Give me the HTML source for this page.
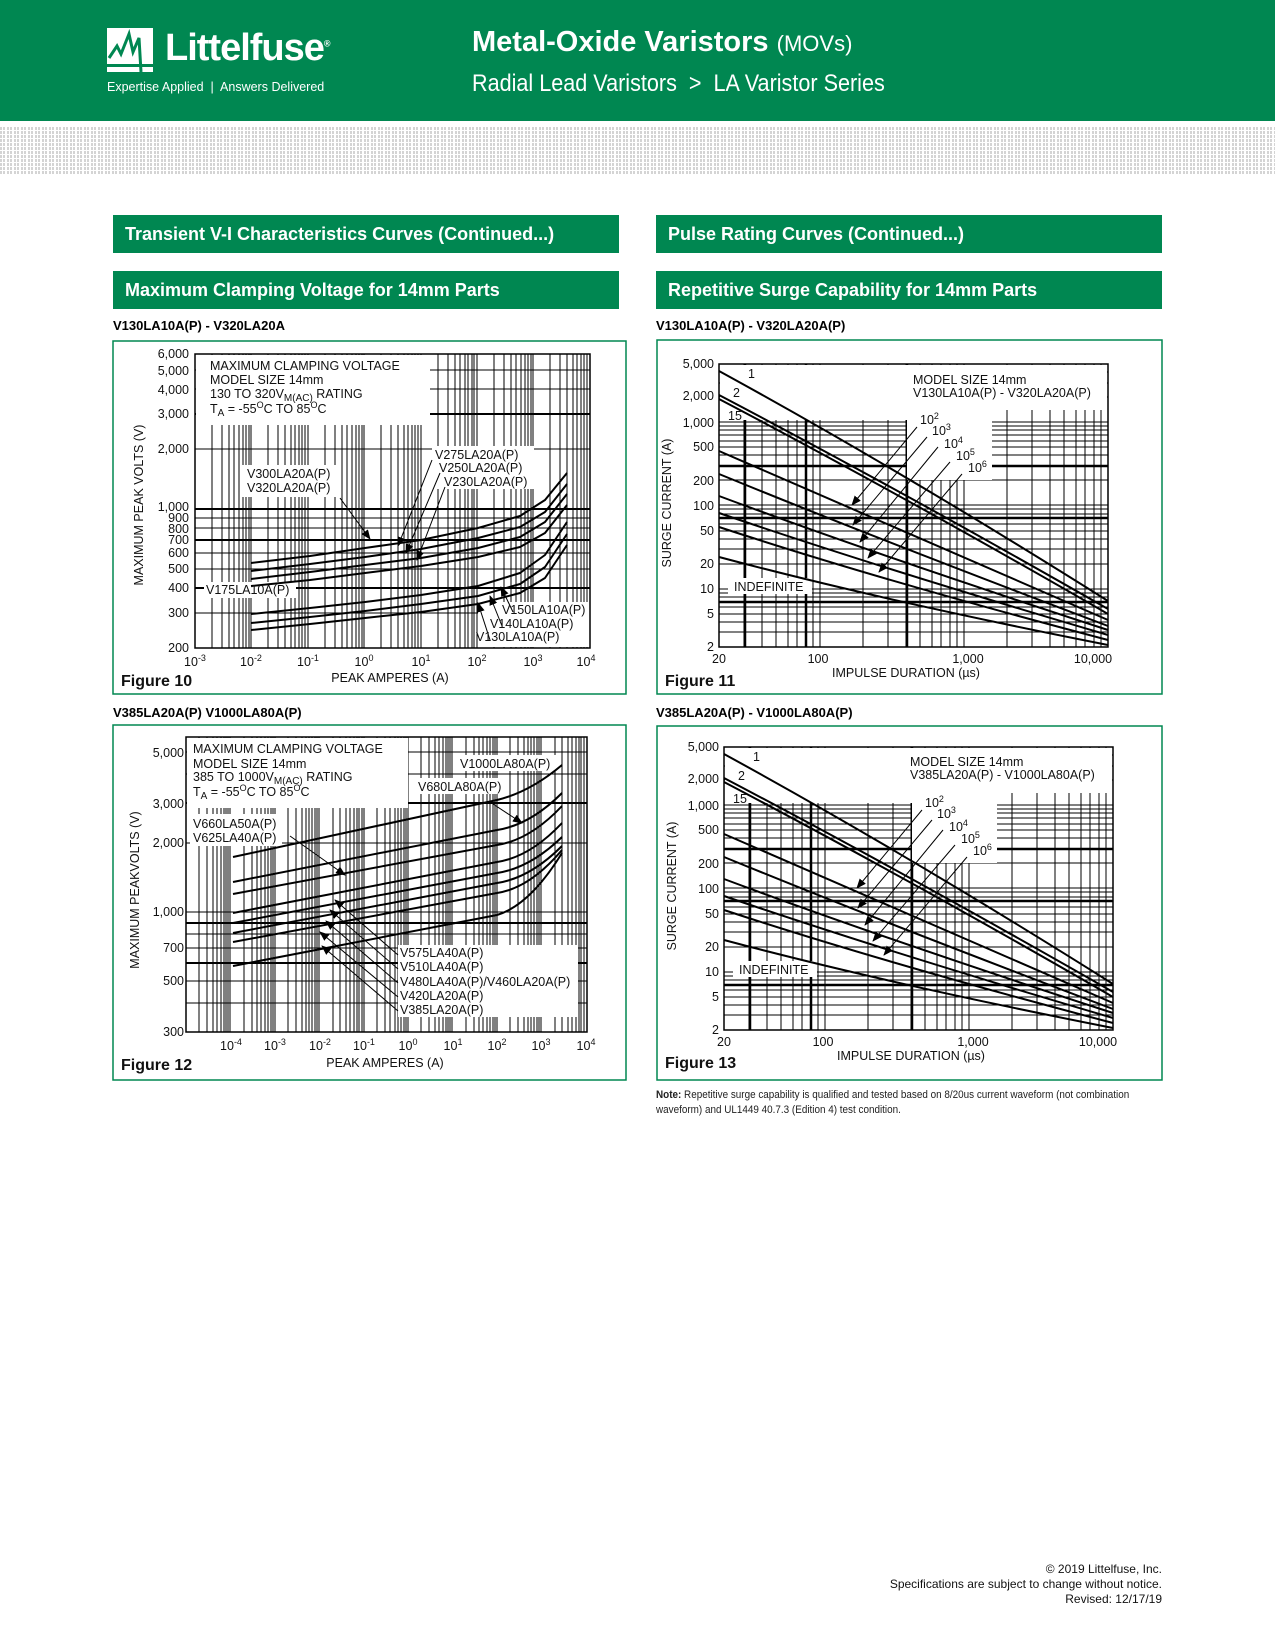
<!DOCTYPE html>
<html><head><meta charset="utf-8"><style>
body{margin:0;width:1275px;height:1650px;position:relative;background:#fff;font-family:"Liberation Sans",sans-serif;overflow:hidden}
.hdr{position:absolute;left:0;top:0;width:1275px;height:121px;background:#008751;color:#fff}
.dots{position:absolute;left:0;top:126px;width:1275px;height:49px;background-image:repeating-linear-gradient(0deg,#fff 0 1px,transparent 1px 4px),repeating-linear-gradient(90deg,#d4d4d4 0 2px,#fff 2px 3px,#d4d4d4 3px 5px,#fff 5px 7px);}
.bar{position:absolute;height:38px;background:#008751;color:#fff;font-weight:bold;font-size:18px;line-height:38px;padding-left:12px;box-sizing:border-box;width:506px}
.sub{position:absolute;font-weight:bold;font-size:13px}
.nar{font-family:"Liberation Sans Narrow","Liberation Sans",sans-serif}
</style></head><body>
<div class="hdr">
 <svg style="position:absolute;left:107px;top:28px" width="46" height="44"><rect x="0" y="0" width="46" height="44" fill="#fff"/><path d="M2 30 L10 18 L14 26 L22 6 L26 24 L32 10 L34 44" stroke="#008751" stroke-width="3" fill="none"/><rect x="0" y="36" width="46" height="3" fill="#008751"/></svg>
 <div class="nar" style="position:absolute;left:165px;top:27px;font-size:38px;font-weight:bold;letter-spacing:-1px">Littelfuse<sup style="font-size:9px">®</sup></div>
 <div class="nar" style="position:absolute;left:107px;top:80px;font-size:12.5px">Expertise Applied &nbsp;|&nbsp; Answers Delivered</div>
 <div class="nar" style="position:absolute;left:472px;top:26px;font-size:29px;font-weight:bold">Metal-Oxide Varistors <span style="font-weight:normal;font-size:22px">(MOVs)</span></div>
 <div class="nar" style="position:absolute;left:472px;top:70px;font-size:24px;transform:scaleX(0.9);transform-origin:0 0;white-space:nowrap">Radial Lead Varistors &nbsp;&gt;&nbsp; LA Varistor Series</div>
</div>
<div class="dots"></div>
<div class="bar nar" style="left:113px;top:215px">Transient V-I Characteristics Curves (Continued...)</div>
<div class="bar nar" style="left:113px;top:271px">Maximum Clamping Voltage for 14mm Parts</div>
<div class="bar nar" style="left:656px;top:215px">Pulse Rating Curves (Continued...)</div>
<div class="bar nar" style="left:656px;top:271px">Repetitive Surge Capability for 14mm Parts</div>
<div class="sub" style="left:113px;top:318px">V130LA10A(P) - V320LA20A</div>
<div class="sub" style="left:656px;top:318px">V130LA10A(P) - V320LA20A(P)</div>
<div class="sub" style="left:113px;top:705px">V385LA20A(P) V1000LA80A(P)</div>
<div class="sub" style="left:656px;top:705px">V385LA20A(P) - V1000LA80A(P)</div>
<div class="nar" style="position:absolute;left:656px;top:1088px;font-size:11px;line-height:15px;color:#222;width:560px;transform:scaleX(0.9);transform-origin:0 0"><b>Note:</b> Repetitive surge capability is qualified and tested based on 8/20us current waveform (not combination<br>waveform) and UL1449 40.7.3 (Edition 4) test condition.</div>
<div class="nar" style="position:absolute;right:113px;top:1562px;font-size:12px;line-height:15px;text-align:right;color:#111">© 2019 Littelfuse, Inc.<br>Specifications are subject to change without notice.<br>Revised: 12/17/19</div>

<svg style="position:absolute;left:0;top:0" width="1275" height="1650" font-family="Liberation Sans, sans-serif">
<defs><marker id="ar" markerWidth="10" markerHeight="8" refX="9" refY="4" orient="auto" markerUnits="userSpaceOnUse"><path d="M0,0 L10,4 L0,8 Z" fill="#000"/></marker></defs>
<g fill="none" stroke="#008751" stroke-width="1.5">
<rect x="113" y="341" width="513" height="353"/><rect x="657" y="340" width="505" height="354"/>
<rect x="113" y="725" width="513" height="355"/><rect x="657" y="726" width="505" height="354"/>
</g>

<!-- FIG 10 -->
<g stroke="#000" stroke-width="1" fill="none">
<path d="M212 354V648M222 354V648M229 354V648M234 354V648M239 354V648M243 354V648M246 354V648M249 354V648M251 354V648M268 354V648M278 354V648M285 354V648M291 354V648M295 354V648M299 354V648M302 354V648M305 354V648M308 354V648M325 354V648M335 354V648M342 354V648M347 354V648M352 354V648M356 354V648M359 354V648M362 354V648M364 354V648M381 354V648M391 354V648M398 354V648M404 354V648M408 354V648M412 354V648M415 354V648M418 354V648M421 354V648M438 354V648M448 354V648M455 354V648M460 354V648M465 354V648M468 354V648M472 354V648M474 354V648M477 354V648M494 354V648M504 354V648M511 354V648M516 354V648M521 354V648M525 354V648M528 354V648M531 354V648M533 354V648M550 354V648M560 354V648M567 354V648M573 354V648M577 354V648M581 354V648M584 354V648M587 354V648"/>
<path d="M195 613H590M195 588H590M195 569H590M195 553H590M195 540H590M195 528H590M195 518H590M195 509H590M195 449H590M195 414H590M195 389H590M195 370H590"/>
<path d="M195 540H590M195 588H590M195 414H590M195 509H590" stroke-width="2"/>
</g>
<g fill="#fff"><rect x="196" y="355" width="234" height="70"/><rect x="240" y="465" width="96" height="32"/><rect x="432" y="446" width="102" height="43"/><rect x="204" y="582" width="92" height="16"/><rect x="478" y="602" width="112" height="45"/></g>
<rect x="195" y="354" width="395" height="294" fill="none" stroke="#000" stroke-width="1.5"/>
<g stroke="#000" stroke-width="2" fill="none" stroke-linejoin="round">
<polyline points="251,563 310,556 365,548 421,540 478,528 520,516 545,500 567,473"/>
<polyline points="251,571 310,564 365,557 421,549 478,538 520,527 545,512 567,484"/>
<polyline points="251,579 310,572 365,565 421,558 478,548 520,537 545,522 567,494"/>
<polyline points="251,586 310,580 365,573 421,566 478,557 520,547 545,533 567,505"/>
<polyline points="251,614 310,608 365,602 421,595 478,586 520,573 545,555 567,522"/>
<polyline points="251,623 310,617 365,611 421,604 478,596 520,584 545,567 567,534"/>
<polyline points="251,630 310,624 365,618 421,612 478,604 520,593 545,578 567,545"/>
</g>
<g stroke="#000" stroke-width="1" marker-end="url(#ar)">
<line x1="340" y1="498" x2="370" y2="539"/><line x1="432" y1="460" x2="398" y2="546"/><line x1="440" y1="473" x2="406" y2="553"/><line x1="445" y1="487" x2="417" y2="560"/>
<line x1="490" y1="640" x2="478" y2="603"/><line x1="502" y1="626" x2="490" y2="596"/><line x1="513" y1="612" x2="501" y2="587"/>
</g>
<g font-size="12.5" fill="#111">
<text x="210" y="370">MAXIMUM CLAMPING VOLTAGE</text><text x="210" y="384">MODEL SIZE 14mm</text>
<text x="210" y="398">130 TO 320V<tspan font-size="10" dy="3">M(AC)</tspan><tspan dy="-3"> RATING</tspan></text>
<text x="210" y="413">T<tspan font-size="10" dy="3">A</tspan><tspan dy="-3"> = -55</tspan><tspan font-size="9" dy="-5">O</tspan><tspan dy="5">C TO 85</tspan><tspan font-size="9" dy="-5">O</tspan><tspan dy="5">C</tspan></text>
<text x="247" y="478">V300LA20A(P)</text><text x="247" y="492">V320LA20A(P)</text>
<text x="435" y="459">V275LA20A(P)</text><text x="439" y="472">V250LA20A(P)</text><text x="444" y="486">V230LA20A(P)</text>
<text x="206" y="594">V175LA10A(P)</text>
<text x="502" y="614">V150LA10A(P)</text><text x="490" y="628">V140LA10A(P)</text><text x="476" y="641">V130LA10A(P)</text>
<g text-anchor="end"><text x="189" y="358">6,000</text><text x="189" y="375">5,000</text><text x="189" y="394">4,000</text><text x="189" y="418">3,000</text><text x="189" y="453">2,000</text><text x="189" y="511">1,000</text><text x="189" y="522">900</text><text x="189" y="533">800</text><text x="189" y="544">700</text><text x="189" y="557">600</text><text x="189" y="573">500</text><text x="189" y="592">400</text><text x="189" y="617">300</text><text x="189" y="652">200</text></g>
<g text-anchor="middle"><text x="195" y="666">10<tspan font-size="9" dy="-5">-3</tspan></text><text x="251" y="666">10<tspan font-size="9" dy="-5">-2</tspan></text><text x="308" y="666">10<tspan font-size="9" dy="-5">-1</tspan></text><text x="364" y="666">10<tspan font-size="9" dy="-5">0</tspan></text><text x="421" y="666">10<tspan font-size="9" dy="-5">1</tspan></text><text x="477" y="666">10<tspan font-size="9" dy="-5">2</tspan></text><text x="533" y="666">10<tspan font-size="9" dy="-5">3</tspan></text><text x="586" y="666">10<tspan font-size="9" dy="-5">4</tspan></text>
<text x="390" y="682">PEAK AMPERES (A)</text>
<text transform="translate(143,505) rotate(-90)">MAXIMUM PEAK VOLTS (V)</text></g>
<text x="121" y="686" font-size="16" font-weight="bold">Figure 10</text>
</g>

<!-- FIG 12 -->
<g stroke="#000" stroke-width="1" fill="none">
<path d="M199 737V1032M207 737V1032M213 737V1032M217 737V1032M221 737V1032M224 737V1032M226 737V1032M228 737V1032M230 737V1032M244 737V1032M252 737V1032M257 737V1032M261 737V1032M265 737V1032M268 737V1032M271 737V1032M273 737V1032M275 737V1032M288 737V1032M296 737V1032M302 737V1032M306 737V1032M309 737V1032M312 737V1032M315 737V1032M317 737V1032M319 737V1032M333 737V1032M340 737V1032M346 737V1032M350 737V1032M354 737V1032M357 737V1032M359 737V1032M362 737V1032M364 737V1032M377 737V1032M385 737V1032M390 737V1032M395 737V1032M398 737V1032M401 737V1032M404 737V1032M406 737V1032M408 737V1032M421 737V1032M429 737V1032M435 737V1032M439 737V1032M443 737V1032M446 737V1032M448 737V1032M450 737V1032M452 737V1032M466 737V1032M474 737V1032M479 737V1032M483 737V1032M487 737V1032M490 737V1032M493 737V1032M495 737V1032M497 737V1032M510 737V1032M518 737V1032M524 737V1032M528 737V1032M531 737V1032M534 737V1032M537 737V1032M539 737V1032M541 737V1032M555 737V1032M562 737V1032M568 737V1032M572 737V1032M576 737V1032M579 737V1032M581 737V1032M584 737V1032"/>
<path d="M186 1003H587M186 981H587M186 963H587M186 948H587M186 934H587M186 923H587M186 912H587M186 843H587M186 803H587M186 774H587M186 752H587"/>
<path d="M186 923H587M186 963H587M186 803H587" stroke-width="2"/>
</g>
<g fill="#fff"><rect x="187" y="738" width="221" height="70"/><rect x="190" y="814" width="92" height="32"/><rect x="458" y="755" width="100" height="16"/><rect x="416" y="778" width="92" height="16"/><rect x="398" y="945" width="180" height="72"/></g>
<rect x="186" y="737" width="401" height="295" fill="none" stroke="#000" stroke-width="1.5"/>
<g stroke="#000" stroke-width="2" fill="none">
<path d="M233 857L497 800Q530 792 562 765"/><path d="M233 882L497 830Q530 825 562 793"/><path d="M233 894L497 845Q530 840 562 806"/><path d="M233 913L497 862Q530 857 562 823"/><path d="M233 923L497 873Q530 868 562 837"/><path d="M233 933L497 883Q530 878 562 846"/><path d="M233 942L497 893Q530 888 562 850"/><path d="M233 966L497 915Q530 905 562 853"/>
</g>
<g stroke="#000" stroke-width="1" marker-end="url(#ar)">
<line x1="290" y1="836" x2="345" y2="875"/><line x1="490" y1="802" x2="522" y2="823"/>
<line x1="398" y1="955" x2="335" y2="900"/><line x1="398" y1="969" x2="330" y2="910"/><line x1="398" y1="983" x2="326" y2="921"/><line x1="398" y1="997" x2="320" y2="932"/><line x1="398" y1="1011" x2="322" y2="946"/>
</g>
<g font-size="12.5" fill="#111">
<text x="193" y="753">MAXIMUM CLAMPING VOLTAGE</text><text x="193" y="768">MODEL SIZE 14mm</text>
<text x="193" y="781">385 TO 1000V<tspan font-size="10" dy="3">M(AC)</tspan><tspan dy="-3"> RATING</tspan></text>
<text x="193" y="796">T<tspan font-size="10" dy="3">A</tspan><tspan dy="-3"> = -55</tspan><tspan font-size="9" dy="-5">O</tspan><tspan dy="5">C TO 85</tspan><tspan font-size="9" dy="-5">O</tspan><tspan dy="5">C</tspan></text>
<text x="460" y="768">V1000LA80A(P)</text><text x="418" y="791">V680LA80A(P)</text>
<text x="193" y="828">V660LA50A(P)</text><text x="193" y="842">V625LA40A(P)</text>
<text x="400" y="957">V575LA40A(P)</text><text x="400" y="971">V510LA40A(P)</text><text x="400" y="986">V480LA40A(P)/V460LA20A(P)</text><text x="400" y="1000">V420LA20A(P)</text><text x="400" y="1014">V385LA20A(P)</text>
<g text-anchor="end"><text x="184" y="757">5,000</text><text x="184" y="808">3,000</text><text x="184" y="847">2,000</text><text x="184" y="916">1,000</text><text x="184" y="952">700</text><text x="184" y="985">500</text><text x="184" y="1036">300</text></g>
<g text-anchor="middle"><text x="231" y="1050">10<tspan font-size="9" dy="-5">-4</tspan></text><text x="275" y="1050">10<tspan font-size="9" dy="-5">-3</tspan></text><text x="320" y="1050">10<tspan font-size="9" dy="-5">-2</tspan></text><text x="364" y="1050">10<tspan font-size="9" dy="-5">-1</tspan></text><text x="408" y="1050">10<tspan font-size="9" dy="-5">0</tspan></text><text x="453" y="1050">10<tspan font-size="9" dy="-5">1</tspan></text><text x="497" y="1050">10<tspan font-size="9" dy="-5">2</tspan></text><text x="541" y="1050">10<tspan font-size="9" dy="-5">3</tspan></text><text x="586" y="1050">10<tspan font-size="9" dy="-5">4</tspan></text>
<text x="385" y="1067">PEAK AMPERES (A)</text>
<text transform="translate(139,890) rotate(-90)">MAXIMUM PEAKVOLTS (V)</text></g>
<text x="121" y="1070" font-size="16" font-weight="bold">Figure 12</text>
</g>

<!-- FIG 11 (and 13 via translate) -->
<g id="pf">
<g stroke="#000" stroke-width="1" fill="none">
<path d="M744 364V647M762 364V647M776 364V647M788 364V647M797 364V647M806 364V647M813 364V647M820 364V647M863 364V647M888 364V647M906 364V647M920 364V647M932 364V647M941 364V647M950 364V647M957 364V647M964 364V647M1007 364V647M1032 364V647M1050 364V647M1064 364V647M1076 364V647M1085 364V647M1094 364V647M1101 364V647"/>
<path d="M719 632H1108M719 622H1108M719 614H1108M719 607H1108M719 602H1108M719 597H1108M719 593H1108M719 589H1108M719 564H1108M719 549H1108M719 539H1108M719 531H1108M719 524H1108M719 518H1108M719 514H1108M719 509H1108M719 505H1108M719 480H1108M719 466H1108M719 455H1108M719 447H1108M719 441H1108M719 435H1108M719 430H1108M719 426H1108M719 422H1108M719 397H1108M719 383H1108M719 372H1108"/>
<path d="M745 364V647M806 364V647M907 364V647M719 602H1108M719 518H1108M719 466H1108" stroke-width="2.5"/>
</g>
<g fill="#fff"><rect x="720" y="365" width="187" height="55"/><rect x="907" y="365" width="200" height="45"/><rect x="907" y="410" width="85" height="70"/><rect x="728" y="578" width="84" height="16"/></g>
<rect x="719" y="364" width="389" height="283" fill="none" stroke="#000" stroke-width="1.5"/>
<g stroke="#000" stroke-width="2" fill="none">
<path d="M719 371Q900 470 1108 601"/><path d="M719 395Q900 490 1108 609"/><path d="M719 399Q900 494 1108 614"/><path d="M719 451Q880 520 1108 620"/><path d="M719 474Q880 540 1108 626"/><path d="M719 496Q880 556 1108 630"/><path d="M719 513Q880 568 1108 635"/><path d="M719 527Q880 580 1108 640"/><path d="M719 557Q880 600 1108 645"/>
</g>
<g stroke="#000" stroke-width="1" marker-end="url(#ar)">
<line x1="917" y1="427" x2="852" y2="505"/><line x1="927" y1="437" x2="853" y2="525"/><line x1="938" y1="447" x2="860" y2="542"/><line x1="950" y1="462" x2="868" y2="558"/><line x1="962" y1="474" x2="879" y2="572"/>
</g>
<g font-size="12.5" fill="#111">
<text x="748" y="378">1</text><text x="733" y="397">2</text><text x="728" y="420">15</text>
<text x="920" y="424">10<tspan font-size="9" dy="-5">2</tspan></text><text x="932" y="435">10<tspan font-size="9" dy="-5">3</tspan></text><text x="944" y="448">10<tspan font-size="9" dy="-5">4</tspan></text><text x="956" y="460">10<tspan font-size="9" dy="-5">5</tspan></text><text x="968" y="472">10<tspan font-size="9" dy="-5">6</tspan></text>
<text x="734" y="591">INDEFINITE</text>
<g text-anchor="end"><text x="714" y="368">5,000</text><text x="714" y="400">2,000</text><text x="714" y="427">1,000</text><text x="714" y="451">500</text><text x="714" y="485">200</text><text x="714" y="510">100</text><text x="714" y="535">50</text><text x="714" y="568">20</text><text x="714" y="593">10</text><text x="714" y="618">5</text><text x="714" y="651">2</text></g>
<g text-anchor="middle"><text x="719" y="663">20</text><text x="818" y="663">100</text><text x="968" y="663">1,000</text><text x="1093" y="663">10,000</text>
<text x="906" y="677">IMPULSE DURATION (µs)</text>
<text transform="translate(671,503) rotate(-90)">SURGE CURRENT (A)</text></g>
</g>
</g>
<g font-size="12.5" fill="#111">
<text x="913" y="384">MODEL SIZE 14mm</text><text x="913" y="397">V130LA10A(P) - V320LA20A(P)</text>
<text x="665" y="686" font-size="16" font-weight="bold">Figure 11</text>
</g>
<g transform="translate(5,383)">
<use href="#pf"/>
</g>
<rect x="910" y="749" width="200" height="40" fill="#fff"/>
<g font-size="12.5" fill="#111">
<text x="910" y="766">MODEL SIZE 14mm</text><text x="910" y="779">V385LA20A(P) - V1000LA80A(P)</text>
<text x="665" y="1068" font-size="16" font-weight="bold">Figure 13</text>
</g>
</svg>
</body></html>
